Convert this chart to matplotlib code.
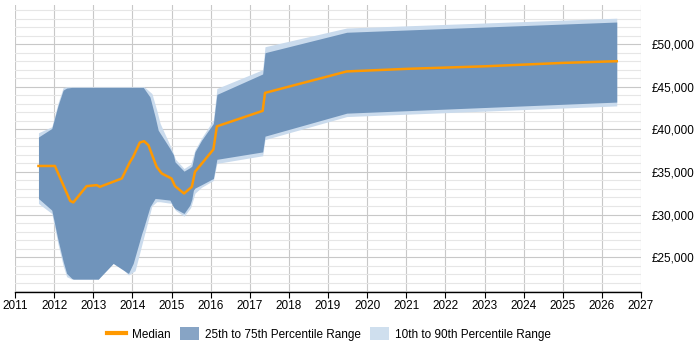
import matplotlib
matplotlib.use('Agg')
import matplotlib.pyplot as plt
from matplotlib.ticker import FuncFormatter, MultipleLocator
from matplotlib.patches import Patch
from matplotlib.lines import Line2D

plt.rcParams['font.family'] = ['Liberation Sans', 'DejaVu Sans']

# median salary
median_x = [2011.6, 2012.02, 2012.41, 2012.49, 2012.83, 2013.09, 2013.17, 2013.73, 2013.94,
            2014.02, 2014.19, 2014.3, 2014.41, 2014.62, 2014.75, 2015.0, 2015.09, 2015.32,
            2015.52, 2015.6, 2016.07, 2016.16, 2017.33, 2017.39, 2019.48, 2021.0, 2023.0,
            2025.0, 2026.38]
median_y = [35700, 35700, 31600, 31420, 33330, 33450, 33250, 34230, 36180,
            36770, 38460, 38610, 38140, 35600, 34820, 34230, 33330, 32470,
            33250, 35010, 37640, 40350, 42170, 44280, 46800, 47100, 47400,
            47800, 48000]

# 25th to 75th percentile band
p25_75_x = [2011.6, 2011.94, 2012.1, 2012.23, 2012.32, 2012.45, 2012.49, 2013.13, 2013.51,
            2013.9, 2014.02, 2014.24, 2014.28, 2014.45, 2014.58, 2014.66, 2014.96, 2015.05,
            2015.09, 2015.32, 2015.47, 2015.52, 2015.56, 2015.6, 2015.77, 2016.07, 2016.16,
            2017.33, 2017.39, 2019.48, 2026.38]
p75 = [39100, 40100, 42800, 44600, 44850, 44920, 44920, 44920, 44920,
       44920, 44920, 44920, 44920, 43800, 41500, 39900, 37750, 37000,
       36180, 35090, 35500, 35680, 36500, 37360, 38730, 40690, 44100,
       46500, 49000, 51400, 52600]
p25 = [31880, 30510, 27000, 24500, 23080, 22500, 22410, 22410, 24250,
       23080, 24250, 27770, 28300, 30900, 31880, 31850, 31690, 30900,
       30700, 30120, 31100, 31800, 32860, 33100, 33500, 34230, 36480,
       37350, 39200, 41900, 43200]

# 10th to 90th percentile band
p10_90_x = [2011.6, 2011.94, 2012.1, 2012.23, 2012.32, 2012.45, 2012.49, 2013.13, 2013.45,
            2013.6, 2013.9, 2014.07, 2014.3, 2014.5, 2014.62, 2014.71, 2015.0, 2015.1,
            2015.32, 2015.49, 2015.6, 2015.77, 2016.07, 2016.16, 2017.33, 2017.39,
            2019.48, 2026.38]
p90 = [39600, 40300, 43100, 44900, 45000, 45000, 45000, 45000, 45000,
       45000, 45000, 45000, 45000, 44200, 42300, 40690, 37750, 36500,
       35400, 35900, 37600, 39000, 41100, 44800, 47000, 49700, 51900, 53050]
p10 = [31300, 30120, 26500, 24000, 22700, 22410, 22410, 22410, 24700,
       24300, 22900, 23400, 27500, 31000, 31500, 31500, 31300, 30500,
       29800, 30800, 32500, 33200, 34000, 36000, 36900, 38800, 41500, 42750]

dark = '#7094bb'
light = '#cadbed'
orange = '#ff9900'

fig = plt.figure(figsize=(7, 3.5), dpi=100)
ax = fig.add_axes([15 / 700, 58 / 350, 626 / 700, 287 / 350])

ax.fill_between(p10_90_x, p10, p90, color=light, linewidth=0, zorder=2)
ax.fill_between(p25_75_x, p25, p75, color=dark, linewidth=0, zorder=3)
ax.plot(median_x, median_y, color=orange, linewidth=1.8, zorder=4)

ax.set_xlim(2011, 2027)
ax.set_ylim(20900, 54600)
ax.xaxis.set_major_locator(MultipleLocator(1))
ax.yaxis.set_major_locator(MultipleLocator(5000))
ax.yaxis.set_minor_locator(MultipleLocator(1000))
ax.xaxis.set_major_formatter(FuncFormatter(lambda v, p: '%d' % v))
ax.yaxis.set_major_formatter(FuncFormatter(lambda v, p: '£{:,.0f}'.format(v)))
ax.yaxis.tick_right()

ax.grid(axis='x', which='major', color='#c8c8c8', linewidth=0.8, zorder=0)
ax.grid(axis='y', which='major', color='#c8c8c8', linewidth=0.8, zorder=0)
ax.grid(axis='y', which='minor', color='#e6e6e6', linewidth=0.8, zorder=0)
ax.set_axisbelow(True)

for s in ['top', 'left', 'right']:
    ax.spines[s].set_visible(False)
ax.spines['bottom'].set_color('black')
ax.spines['bottom'].set_linewidth(1)

ax.tick_params(axis='x', length=4, width=0.8, labelsize=8.5, pad=2)
ax.tick_params(axis='y', which='both', length=0, labelsize=8.5, pad=8)

handles = [Line2D([], [], color=orange, linewidth=3),
           Patch(facecolor='#87a4c5', edgecolor='none'),
           Patch(facecolor='#cfdfee', edgecolor='none')]
labels = ['Median', '25th to 75th Percentile Range', '10th to 90th Percentile Range']
fig.legend(handles, labels, loc='center', bbox_to_anchor=(329 / 700, 1 - 334 / 350),
           ncol=3, frameon=False, fontsize=8.5, handlelength=1.6, handleheight=1.2,
           columnspacing=0.85, handletextpad=0.45)

fig.savefig('out.png', dpi=100)
